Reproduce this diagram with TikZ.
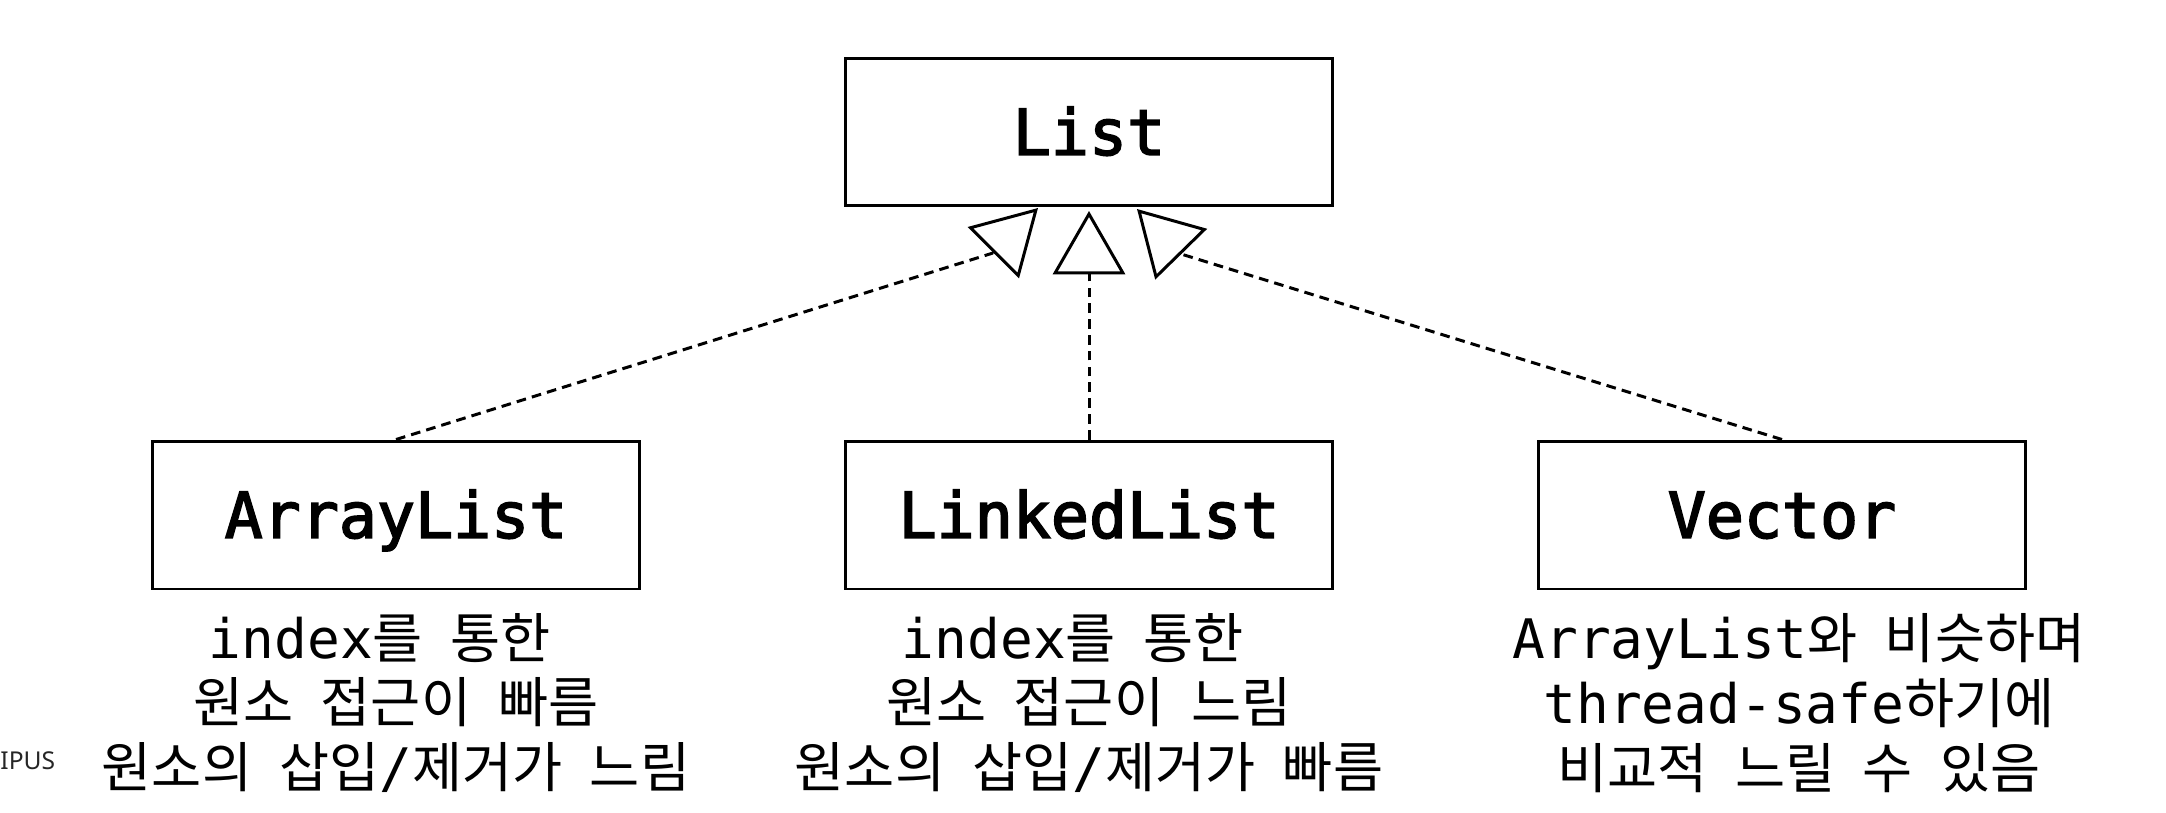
\documentclass[tikz,border=0pt]{standalone}
\usepackage{fontspec}
\setmonofont{DejaVu Sans Mono}
\newfontfamily\clsfont[FakeBold=2.6]{DejaVu Sans Mono}
\newfontfamily\krfont[Scale=1.0]{Noto Sans CJK KR}
\newfontfamily\tagfont{Noto Sans}
\newcommand{\kr}[1]{{\krfont\spaceskip=0.5em\relax #1}}
\usepackage{tikz}
\usetikzlibrary{arrows.meta,positioning}

\begin{document}
\begin{tikzpicture}[x=0.02cm, y=-0.02cm,
  line width=1.7pt,
  cls/.style={draw,rectangle,minimum width=9.74cm,minimum height=2.96cm,inner sep=0pt,
    font=\clsfont\fontsize{36}{40}\selectfont,text height=26pt,text depth=0pt},
  note/.style={align=center,font=\ttfamily\fontsize{31}{36.9}\selectfont},
  impl/.style={dash pattern=on 5.5pt off 3.5pt},
  head/.style={-{Triangle[open,length=36pt,width=41pt]},solid},
]
  \useasboundingbox (0,0) rectangle (2166,812);

  \node[cls] (list) at (1089,132) {List};

  \foreach \i/\name/\x/\nx/\desc in {1/ArrayList/396/396/{index\kr{를 통한}\phantom{x}\\\kr{원소 접근이 빠름}\\\kr{원소의 삽입}/\kr{제거가 느림}},
      2/LinkedList/1089/1089/{index\kr{를 통한}\phantom{x}\\\kr{원소 접근이 느림}\\\kr{원소의 삽입}/\kr{제거가 빠름}},
      3/Vector/1782/1799/{ArrayList\kr{와 비슷하며}\\thread-safe\kr{하기에}\\\kr{비교적 느릴 수 있음}}} {
    \node[cls] (c\i) at (\x,515) {\name};
    \node[note] (d\i) at (\nx,703) {\desc};
  }

  % heads sit on the bottom edge of List
  \coordinate (b1) at (993,253);  \coordinate (t1) at (1038,208);
  \coordinate (b2) at (1089,276); \coordinate (t2) at (1089,211);
  \coordinate (b3) at (1181,254); \coordinate (t3) at (1137,209);

  \foreach \i in {1,2,3} {
    \draw[impl] (c\i.north) -- (b\i);
    \draw[head] (b\i) -- (t\i);
  }

  \node[font=\tagfont\fontsize{14}{16}\selectfont,text=black!85,anchor=west,inner sep=0pt] (tag) at (-1,761) {IPUS};
\end{tikzpicture}
\end{document}
